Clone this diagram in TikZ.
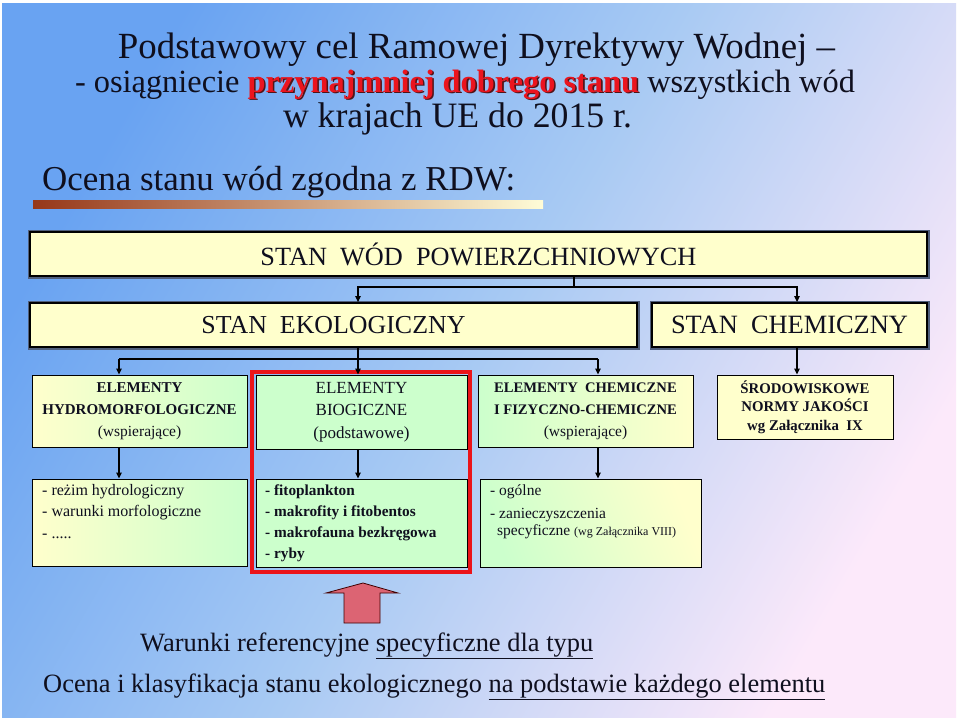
\documentclass[tikz,border=0pt]{standalone}
\usepackage{fontspec}
\setmainfont{Liberation Serif}
\usetikzlibrary{arrows.meta,calc}
\definecolor{bgA}{RGB}{105,163,242}
\definecolor{bgB}{RGB}{168,202,243}
\definecolor{bgC}{RGB}{252,233,250}
\definecolor{boxY}{RGB}{255,255,204}
\definecolor{boxG}{RGB}{204,255,204}
\definecolor{slate}{RGB}{80,95,125}
\definecolor{redframe}{RGB}{235,20,25}
\definecolor{arrowfill}{RGB}{220,100,115}
\definecolor{titlered}{RGB}{235,20,30}
\definecolor{shadowc}{RGB}{80,20,25}
\definecolor{barA}{RGB}{150,55,25}
\definecolor{barB}{RGB}{255,252,215}
\definecolor{ink}{RGB}{15,15,30}
\newcommand{\fitto}[2]{\resizebox{#1pt}{!}{#2}}
\newcommand{\redpart}[1]{\makebox[0pt][l]{\hspace{1.8pt}\raisebox{-1.8pt}{\textcolor{shadowc}{\textbf{#1}}}}\textcolor{titlered}{\textbf{#1}}}
\tikzset{
  bigbox/.style={fill=boxY, draw=black, line width=1.8pt, inner sep=0pt,
    preaction={draw=slate, line width=5pt}, text=ink},
  elbox/.style={draw=black, line width=1pt, inner sep=0pt, align=center, text=ink},
  conn/.style={draw=black, line width=1.1pt},
  arr/.style={conn, -{Triangle[length=6pt,width=5.5pt]}},
  ttl/.style={text=ink, inner sep=0pt},
  lst/.style={anchor=base west, inner sep=0pt, text=ink}
}
\begin{document}
\begin{tikzpicture}[x=1pt,y=-1pt]
\useasboundingbox (0,0) rectangle (960,720);
\fill[white] (0,0) rectangle (960,720);
\shade[top color=bgA, bottom color=bgC, middle color=bgB, shading angle=60] (2,3) rectangle (956,717);

% titles
\node[ttl, anchor=base, font=\fontsize{36}{40}\selectfont] (t1) at (476.5,58)
  {\fitto{717}{Podstawowy cel Ramowej Dyrektywy Wodnej –}};
\node[ttl, anchor=base, font=\fontsize{36}{40}\selectfont] (t2) at (465,92)
  {\fitto{780}{- osiągniecie \redpart{przynajmniej dobrego stanu} wszystkich wód}};
\node[ttl, anchor=base, font=\fontsize{36}{40}\selectfont] (t3) at (457.5,127)
  {\fitto{349}{w krajach UE do 2015 r.}};
\node[ttl, anchor=base west, font=\fontsize{36}{40}\selectfont] (t4) at (42,190)
  {\fitto{473}{Ocena stanu wód zgodna z RDW:}};
\shade[left color=barA, right color=barB] (33,200) rectangle (543,208);

% top level boxes
\node[bigbox, minimum width=897pt, minimum height=44pt] (top) at (478.5,254)
  {\fitto{436}{\fontsize{26}{30}\selectfont STAN\ \ WÓD\ \ POWIERZCHNIOWYCH}};
\node[bigbox, minimum width=607pt, minimum height=44pt] (eko) at (333.5,325)
  {\fitto{264}{\fontsize{26}{30}\selectfont STAN\ \ EKOLOGICZNY}};
\node[bigbox, minimum width=275pt, minimum height=44pt] (chem) at (789.5,325)
  {\fitto{237}{\fontsize{26}{30}\selectfont STAN\ \ CHEMICZNY}};

% element boxes
\node[elbox, left color=boxY, right color=boxG, minimum width=215pt, minimum height=72pt,
  font=\fontsize{15}{22}\selectfont] (hydro) at (139.5,411)
  {\textbf{ELEMENTY}\\ \textbf{HYDROMORFOLOGICZNE}\\ {\fontsize{15.5}{18}\selectfont(wspierające)}};
\node[elbox, fill=boxG, minimum width=211pt, minimum height=74pt,
  font=\fontsize{17}{22.5}\selectfont] (bio) at (361.5,412)
  {ELEMENTY\\ BIOGICZNE\\ (podstawowe)};
\node[elbox, left color=boxG, right color=boxY, minimum width=215pt, minimum height=72pt,
  font=\fontsize{14.6}{22}\selectfont] (chemel) at (585.5,411)
  {\textbf{ELEMENTY\ \ CHEMICZNE}\\ \textbf{I FIZYCZNO-CHEMICZNE}\\ {\fontsize{15.5}{18}\selectfont(wspierające)}};
\node[elbox, fill=boxY, minimum width=176pt, minimum height=64pt,
  font=\fontsize{14.8}{18.5}\selectfont\bfseries] (srod) at (805,407)
  {ŚRODOWISKOWE\\ NORMY JAKOŚCI\\ wg Załącznika\ \ IX};

% list boxes
\node[elbox, left color=boxY, right color=boxG, minimum width=215pt, minimum height=87pt] (hydrol) at (139.5,522.5) {};
\node[elbox, fill=boxG, minimum width=211pt, minimum height=88pt] (biol) at (361.5,523) {};
\node[elbox, left color=boxG, right color=boxY, shading angle=110, minimum width=221pt, minimum height=88pt] (cheml) at (590.5,523) {};

\node[lst, font=\fontsize{16}{20}\selectfont] (h1) at (42,495) {- reżim hydrologiczny};
\node[lst, font=\fontsize{16}{20}\selectfont] (h2) at (42,516.5) {- warunki morfologiczne};
\node[lst, font=\fontsize{16}{20}\selectfont] (h3) at (42,538) {- .....};

\node[lst, font=\fontsize{15.3}{20}\selectfont\bfseries] (b1) at (265,495) {- fitoplankton};
\node[lst, font=\fontsize{15.3}{20}\selectfont\bfseries] (b2) at (265,516) {- makrofity i fitobentos};
\node[lst, font=\fontsize{15.3}{20}\selectfont\bfseries] (b3) at (265,537) {- makrofauna bezkręgowa};
\node[lst, font=\fontsize{15.3}{20}\selectfont\bfseries] (b4) at (265,558) {- ryby};

\node[lst, font=\fontsize{15.5}{20}\selectfont] (c1) at (490,495) {- ogólne};
\node[lst, font=\fontsize{15.5}{20}\selectfont] (c2) at (490,518) {- zanieczyszczenia};
\node[lst, font=\fontsize{15.5}{20}\selectfont] (c3) at (497,535) {specyficzne {\fontsize{12}{14}\selectfont(wg Załącznika VIII)}};

% red frame
\node[draw=redframe, line width=4pt, minimum width=218pt, minimum height=200pt, inner sep=0pt] (frame) at (361,472) {};

% connectors
\coordinate (j1) at (574,287);
\coordinate (j2) at (358,359);
\coordinate (colA) at (119,0);
\coordinate (colC) at (598,0);
\coordinate (colD) at (797,0);
\draw[conn] (j1 |- top.south) -- (j1);
\draw[arr] (j1) -| (j2 |- eko.north);
\draw[arr] (j1) -| (colD |- chem.north);
\draw[conn] (j2 |- eko.south) -- (j2);
\draw[conn] (colA |- j2) -- (colC |- j2);
\draw[arr] (j2) -- (j2 |- bio.north);
\draw[arr] (colA |- j2) -- (colA |- hydro.north);
\draw[arr] (colC |- j2) -- (colC |- chemel.north);
\draw[arr] (colD |- chem.south) -- (colD |- srod.north);
\draw[arr] (colA |- hydro.south) -- (colA |- hydrol.north);
\draw[arr] (j2 |- bio.south) -- (j2 |- biol.north);
\draw[arr] (colC |- chemel.south) -- (colC |- cheml.north);

% block arrow
\draw[fill=arrowfill, draw=black!75!red, line width=0.8pt]
  (344,623) -- (344,593) -- (326,593) -- (363,583) -- (398,593) -- (380,593) -- (380,623) -- cycle;

% bottom texts
\node[ttl, anchor=base west, font=\fontsize{26}{30}\selectfont] (w1) at (140,651)
  {\fitto{453}{Warunki referencyjne \underline{specyficzne dla typu}}};
\node[ttl, anchor=base west, font=\fontsize{26}{30}\selectfont] (w2) at (43,692)
  {\fitto{782}{Ocena i klasyfikacja stanu ekologicznego \underline{na podstawie każdego elementu}}};
\end{tikzpicture}
\end{document}
